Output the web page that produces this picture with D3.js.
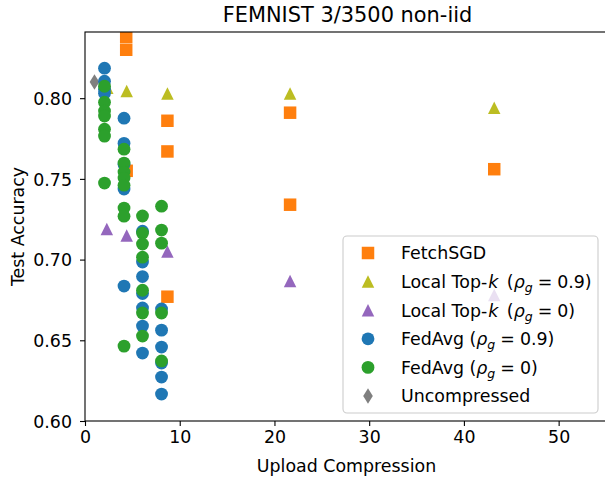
<!DOCTYPE html>
<html><head><meta charset="utf-8">
<script src="https://cdn.jsdelivr.net/npm/d3@7"></script>
<style>body{margin:0;background:#fff}svg{display:block}text{font-family:"DejaVu Sans",sans-serif}</style>
</head><body><svg id="c" width="605" height="480"></svg>
<script>
// ---- data ----
const fetchX = [4.35, 4.35, 8.7, 8.7, 4.4, 8.7, 21.65, 21.65, 43.2];
const fetchY = [0.838, 0.830, 0.786, 0.767, 0.755, 0.677, 0.791, 0.734, 0.756];
const topk09X = [2.35, 4.4, 8.7, 21.65, 43.2];
const topk09Y = [0.8065, 0.8045, 0.8029, 0.8029, 0.7941];
const topk0X = [2.3, 4.4, 8.7, 21.65, 43.2];
const topk0Y = [0.719, 0.715, 0.705, 0.6867, 0.678];
const fedavg09X = [2.06, 2.06, 2.06, 2.06, 4.12, 4.12, 4.12, 4.12, 4.12, 6.07, 6.07, 6.07, 6.07, 6.07, 6.07, 6.07, 8.08, 8.08, 8.08, 8.08, 8.08, 8.08];
const fedavg09Y = [0.8186, 0.8105, 0.8055, 0.8030, 0.7876, 0.772, 0.759, 0.7437, 0.6836, 0.7176, 0.6985, 0.6895, 0.679, 0.670, 0.6588, 0.6421, 0.6694, 0.6563, 0.6458, 0.6359, 0.6272, 0.6167];
const fedavg0X = [2.06, 2.06, 2.06, 2.06, 2.06, 2.06, 2.06, 4.12, 4.12, 4.12, 4.12, 4.12, 4.12, 4.12, 4.12, 6.07, 6.07, 6.07, 6.07, 6.07, 6.07, 6.07, 8.08, 8.08, 8.08, 8.08, 8.08];
const fedavg0Y = [0.8074, 0.7975, 0.792, 0.7889, 0.7808, 0.7765, 0.7474, 0.7684, 0.7598, 0.7542, 0.7505, 0.7461, 0.7319, 0.7269, 0.6464, 0.727, 0.7164, 0.7096, 0.7015, 0.681, 0.6669, 0.6526, 0.7331, 0.7183, 0.7102, 0.6669, 0.6372];
const uncompX = [1.0];
const uncompY = [0.810];
const xTicks = [0, 10, 20, 30, 40, 50];
const yTicks = [0.60, 0.65, 0.70, 0.75, 0.80];
const title = "FEMNIST 3/3500 non-iid";
const xLabel = "Upload Compression";
const yLabel = "Test Accuracy";

// ---- layout ----
const L = 85, R = 606, T = 32, B = 421;
const svg = d3.select("#c");
const x = d3.scaleLinear().domain([0, 55]).range([L, R]);
const y = d3.scaleLinear().domain([0.6, 0.841]).range([B, T]);

// marker symbol types (matplotlib-like)
const sqType = {draw(ctx, s){ const h = Math.sqrt(s)/2; ctx.rect(-h,-h,2*h,2*h);} };
const triType = {draw(ctx, s){ const h = Math.sqrt(s)/2; ctx.moveTo(0,-h); ctx.lineTo(h,h); ctx.lineTo(-h,h); ctx.closePath();} };
const dmType = {draw(ctx, s){ const h = Math.sqrt(s)/2; const w = h*0.62; ctx.moveTo(0,-h); ctx.lineTo(w,0); ctx.lineTo(0,h); ctx.lineTo(-w,0); ctx.closePath();} };
const ciType = {draw(ctx, s){ const r = Math.sqrt(s)/2; ctx.moveTo(r,0); ctx.arc(0,0,r,0,2*Math.PI);} };

const series = [
  {xs: fetchX, ys: fetchY, type: sqType, size: 12.5*12.5, color: "#ff7f0e"},
  {xs: topk09X, ys: topk09Y, type: triType, size: 12.5*12.5, color: "#bcbd22"},
  {xs: topk0X, ys: topk0Y, type: triType, size: 12.5*12.5, color: "#9467bd"},
  {xs: uncompX, ys: uncompY, type: dmType, size: 15.5*15.5, color: "#7f7f7f"},
  {xs: fedavg09X, ys: fedavg09Y, type: ciType, size: 12.8*12.8, color: "#1f77b4"},
  {xs: fedavg0X, ys: fedavg0Y, type: ciType, size: 12.8*12.8, color: "#2ca02c"}
];

svg.append("defs").append("clipPath").attr("id","clip")
  .append("rect").attr("x", L).attr("y", T).attr("width", R-L).attr("height", B-T);

const plot = svg.append("g").attr("clip-path","url(#clip)");
series.forEach(s => {
  plot.append("g").selectAll("path").data(s.xs.map((v,i)=>[v, s.ys[i]])).join("path")
    .attr("transform", d => `translate(${x(d[0])},${y(d[1])})`)
    .attr("d", d3.symbol().type(s.type).size(s.size))
    .attr("fill", s.color);
});

// axes
const xAxis = svg.append("g").attr("transform", `translate(0,${B})`)
  .call(d3.axisBottom(x).tickValues(xTicks).tickFormat(d3.format("d")).tickSizeOuter(0).tickSize(5).tickPadding(5));
const yAxis = svg.append("g").attr("transform", `translate(${L},0)`)
  .call(d3.axisLeft(y).tickValues(yTicks).tickFormat(d3.format(".2f")).tickSizeOuter(0).tickSize(5).tickPadding(8));
[xAxis, yAxis].forEach(a => {
  a.select(".domain").remove();
  a.selectAll("line").attr("stroke","#000").attr("stroke-width",1.1);
  a.selectAll("text").attr("font-size","17.4px").attr("fill","#000").attr("font-family","DejaVu Sans");
});
yAxis.selectAll("text").attr("dy","0.36em");
// spines
svg.append("rect").attr("x", L).attr("y", T).attr("width", R-L).attr("height", B-T)
  .attr("fill","none").attr("stroke","#000").attr("stroke-width",1.1);

// labels
svg.append("text").attr("x", (L+R)/2 + 2).attr("y", 22).attr("text-anchor","middle")
  .attr("font-size","20.9px").text(title);
svg.append("text").attr("x", (L+R)/2 + 1).attr("y", 472).attr("text-anchor","middle")
  .attr("font-size","17.4px").text(xLabel);
svg.append("text").attr("transform", `translate(24,${(T+B)/2}) rotate(-90)`).attr("text-anchor","middle")
  .attr("font-size","17.4px").text(yLabel);

// legend
const lg = svg.append("g");
lg.append("rect").attr("x", 343).attr("y", 236).attr("width", 255).attr("height", 177).attr("rx", 4)
  .attr("fill","#fff").attr("fill-opacity",0.8).attr("stroke","#cccccc").attr("stroke-width",1.1);
// parts: [text, style, dx]
const legendItems = [
  {s: series[0], parts: [["FetchSGD"]]},
  {s: series[1], parts: [["Local Top-"],["k","i",1],[" (","",3],["ρ","i"],["g","sub"],["=","up",5],["0.9)","",5]]},
  {s: series[2], parts: [["Local Top-"],["k","i",1],[" (","",3],["ρ","i"],["g","sub"],["=","up",5],["0)","",5]]},
  {s: series[4], parts: [["FedAvg ("],["ρ","i"],["g","sub"],["=","up",5],["0.9)","",5]]},
  {s: series[5], parts: [["FedAvg ("],["ρ","i"],["g","sub"],["=","up",5],["0)","",5]]},
  {s: series[3], parts: [["Uncompressed"]]}
];
const rowY = d3.scaleLinear().domain([0, 5]).range([253, 396]);
legendItems.forEach((it, i) => {
  const cy = rowY(i);
  lg.append("path").attr("transform", `translate(368,${cy})`)
    .attr("d", d3.symbol().type(it.s.type).size(it.s.size)).attr("fill", it.s.color);
  const t = lg.append("text").attr("x", 401).attr("y", cy + 6.3).attr("font-size","17.4px");
  it.parts.forEach(p => {
    const ts = t.append("tspan").text(p[0]);
    if (p[2]) ts.attr("dx", p[2]);
    if (p[1] === "i") ts.attr("font-style","italic");
    if (p[1] === "sub") ts.attr("font-style","italic").attr("font-size","12.5px").attr("dy", 4);
    if (p[1] === "up") ts.attr("dy", -4);
  });
});
</script></body></html>
